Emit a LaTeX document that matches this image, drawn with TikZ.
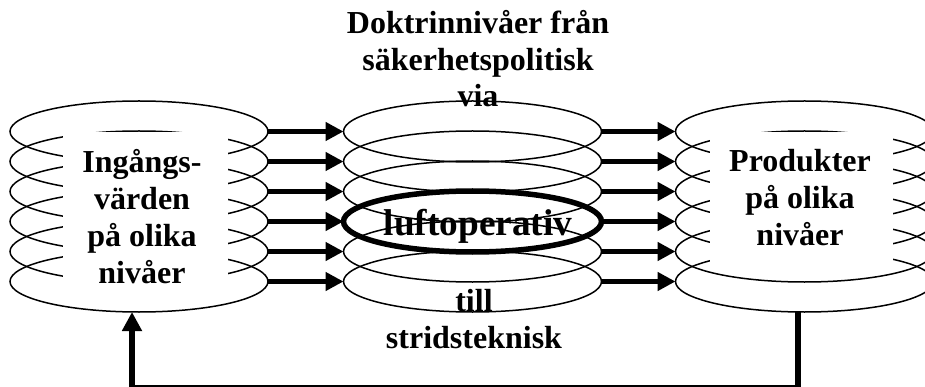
\documentclass[tikz,border=0pt]{standalone}
\usepackage{fontspec}
\setmainfont{Liberation Serif}
\usetikzlibrary{shapes.geometric,arrows.meta}

\tikzset{
  ring/.style={draw, ellipse, line width=1.5pt, minimum width=258pt, minimum height=61pt, inner sep=0pt, outer sep=0pt},
  heavyring/.style={ring, line width=5.5pt},
  mask/.style={fill=white, draw=none},
  flow/.style={line width=5.5pt, -{Triangle[length=18pt,width=18pt]}},
  fback/.style={line width=5.5pt, -{Triangle[length=19pt,width=19pt]}},
  lbl/.style={font=\fontsize{32}{36.7}\selectfont\bfseries, align=center, anchor=base, inner sep=0pt},
  biglbl/.style={lbl, font=\fontsize{37.3}{44}\selectfont\bfseries},
}

\begin{document}
\begin{tikzpicture}[x=1pt,y=-1pt]
\useasboundingbox (0,0) rectangle (925,387);
% left stack
\node[ring] (l1) at (139,131.5) {};
\node[ring] (l2) at (139,161.5) {};
\node[ring] (l3) at (139,191.5) {};
\node[ring] (l4) at (139,221.5) {};
\node[ring] (l5) at (139,251.5) {};
\node[ring] (l6) at (139,281.5) {};
\fill[mask] (63,132.5) rectangle (228,292);
% right stack
\node[ring] (r1) at (804.5,131.5) {};
\node[ring] (r2) at (804.5,161.5) {};
\node[ring] (r3) at (804.5,191.5) {};
\node[ring] (r4) at (804.5,221.5) {};
\node[ring] (r5) at (804.5,251.5) {};
\node[ring] (r6) at (804.5,281.5) {};
\fill[mask] (710,132.5) rectangle (893,267);
% middle stack
\node[ring] (m1) at (472.5,131.5) {};
\node[ring] (m2) at (472.5,161.5) {};
\node[ring] (m3) at (472.5,191.5) {};
\node[heavyring] (m4) at (472.5,221.5) {};
\node[ring] (m5) at (472.5,251.5) {};
\node[ring] (m6) at (472.5,281.5) {};
% arrows
\draw[flow] (l1.east) -- (m1.west);
\draw[flow] (l2.east) -- (m2.west);
\draw[flow] (l3.east) -- (m3.west);
\draw[flow] (l4.east) -- (m4.west);
\draw[flow] (l5.east) -- (m5.west);
\draw[flow] (l6.east) -- (m6.west);
\draw[flow] (m1.east) -- (r1.west);
\draw[flow] (m2.east) -- (r2.west);
\draw[flow] (m3.east) -- (r3.west);
\draw[flow] (m4.east) -- (r4.west);
\draw[flow] (m5.east) -- (r5.west);
\draw[flow] (m6.east) -- (r6.west);
% feedback
\draw[fback] ([xshift=-6.5pt]r6.south) -- ++(0,76) -| ([xshift=-7pt]l6.south);
% texts
\node[lbl] (inputs) at (142,283) {Ingångs-\\värden\\på olika\\nivåer};
\node[lbl] (products) at (800,245) {Produkter\\på olika\\nivåer};
\node[lbl] (levels) at (478,107) {Doktrinnivåer från\\säkerhetspolitisk\\via};
\node[biglbl] (air) at (478,235) {luftoperativ};
\node[lbl] (tech) at (474,348) {till\\stridsteknisk};
\end{tikzpicture}
\end{document}
